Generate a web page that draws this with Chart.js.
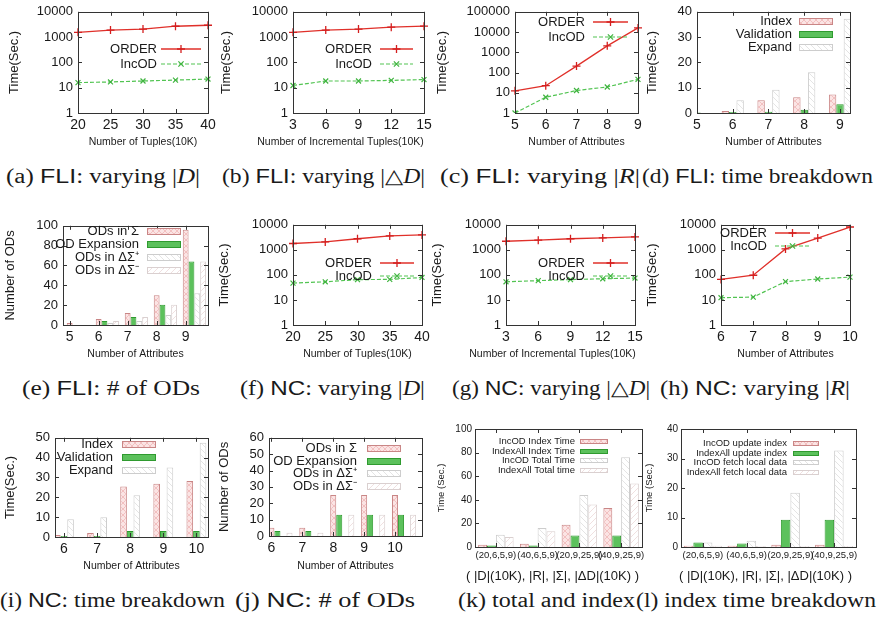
<!DOCTYPE html>
<html>
<head>
<meta charset="utf-8">
<script src="https://cdn.jsdelivr.net/npm/chart.js@4.4.1/dist/chart.umd.min.js"></script>
<style>
  body { margin: 0; background: #fff; width: 879px; height: 617px; position: relative; overflow: hidden; }
  canvas { position: absolute; }
  .cap { position: absolute; white-space: nowrap; font-family: "Liberation Serif", "DejaVu Serif", serif;
         font-size: 20px; color: #1a1a1a; transform-origin: 0 50%; line-height: 1; }
  .cap .sf { font-family: "Liberation Sans", Arial, sans-serif; }
</style>
</head>
<body>
<div class="cap" data-w="194" style="left:6px;top:176px">(a) <span class="sf">FLI</span>: varying |<i>D</i>|</div>
<div class="cap" data-w="203" style="left:222px;top:176px">(b) <span class="sf">FLI</span>: varying |△<i>D</i>|</div>
<div class="cap" data-w="200" style="left:440px;top:176px">(c) <span class="sf">FLI</span>: varying |<i>R</i>|</div>
<div class="cap" data-w="231" style="left:642px;top:176px">(d) <span class="sf">FLI</span>: time breakdown</div>
<div class="cap" data-w="178" style="left:22px;top:388px">(e) <span class="sf">FLI</span>: # of ODs</div>
<div class="cap" data-w="185" style="left:240px;top:388px">(f) <span class="sf">NC</span>: varying |<i>D</i>|</div>
<div class="cap" data-w="198" style="left:452px;top:388px">(g) <span class="sf">NC</span>: varying |△<i>D</i>|</div>
<div class="cap" data-w="190" style="left:660px;top:388px">(h) <span class="sf">NC</span>: varying |<i>R</i>|</div>
<div class="cap" data-w="225" style="left:0px;top:600px">(i) <span class="sf">NC</span>: time breakdown</div>
<div class="cap" data-w="180" style="left:235px;top:600px">(j) <span class="sf">NC</span>: # of ODs</div>
<div class="cap" data-w="177" style="left:458px;top:600px">(k) total and index</div>
<div class="cap" data-w="240" style="left:636px;top:600px">(l) index time breakdown</div>
<script>
// categories
const tuples = [20, 25, 30, 35, 40];
const incTuples = [3, 6, 9, 12, 15];
const attrsFli = [5, 6, 7, 8, 9];
const attrsNc = [6, 7, 8, 9, 10];
const settings = ['(20,6,5,9)', '(40,6,5,9)', '(20,9,25,9)', '(40,9,25,9)'];

// FLI runtimes (sec)
const fliOrderD = [1550, 1900, 2070, 2690, 2940];
const fliIncodD = [15.9, 16.9, 18.4, 20, 22];
const fliOrderDD = [1550, 1900, 2070, 2470, 2700];
const fliIncodDD = [12.2, 18.4, 18.4, 19.5, 21];
const fliOrderR = [12.5, 22.3, 208, 2080, 16000];
const fliIncodR = [1.0, 6.0, 12.9, 19.3, 46];
const fliIndex = [0, 0.8, 5, 6.2, 7.3];
const fliValidation = [0.2, 0.4, 0.5, 1.3, 3.5];
const fliExpand = [0, 5, 9.2, 16.1, 37.3];
const fliOdsSigma = [2, 6, 12, 30, 96];
const fliOdExpansion = [0, 4, 8, 20.5, 64];
const fliOdsPlus = [0, 2, 4, 10, 32];
const fliOdsMinus = [0, 4, 8, 20.5, 64];

// NC runtimes (sec)
const ncOrderD = [1790, 2070, 2770, 3610, 3960];
const ncIncodD = [47, 53, 65, 66, 79];
const ncOrderDD = [2200, 2430, 2770, 3000, 3280];
const ncIncodDD = [53, 59, 65, 70, 75];
const ncOrderR = [66, 97, 1090, 2940, 8160];
const ncIncodR = [12.3, 13, 54, 68.5, 81.6];
const ncIndex = [1, 2, 25.5, 26.8, 28.2];
const ncValidation = [0.5, 0.5, 3, 3, 3];
const ncExpand = [9, 10, 21, 35, 47.5];
const ncOdsSigma = [5, 5, 25, 25, 25];
const ncOdExpansion = [3, 3, 13, 13, 13];
const ncOdsPlus = [0, 0, 0, 0, 0];
const ncOdsMinus = [2, 2, 13, 13, 13];

// index comparison
const incodIndexTime = [2, 2.8, 18.8, 33];
const indexAllIndexTime = [1.2, 1.2, 9.8, 9.8];
const incodTotalTime = [10.4, 16, 44, 76];
const indexAllTotalTime = [8.4, 13.4, 36.1, 53.8];
const incodUpdateIndex = [0.45, 0.4, 0.8, 0.8];
const indexAllUpdateIndex = [1.5, 1.2, 9.2, 9.2];
const incodFetchLocal = [1.5, 2.1, 18.4, 32.7];
const indexAllFetchLocal = [0.4, 0.3, 0.3, 0.3];

// tick labels
const logTicks4 = [1, 10, 100, 1000, 10000];
const logTicks5 = [1, 10, 100, 1000, 10000, 100000];
const fliBreakTicks = [0, 10, 20, 30, 40];
const fliOdTicks = [0, 20, 40, 60, 80, 100];
const ncBreakTicks = [0, 10, 20, 30, 40, 50];
const ncOdTicks = [0, 10, 20, 30, 40, 50, 60];
const totalTicks = [0, 20, 40, 60, 80, 100];
const indexTicks = [0, 10, 20, 30, 40];

Chart.defaults.font.family = '"Liberation Sans", Arial, Helvetica, sans-serif';
Chart.defaults.color = '#1a1a1a';
Chart.defaults.animation = false;

function hatch(bg, fg, kind) {
  const c = document.createElement('canvas');
  c.width = 6; c.height = 6;
  const g = c.getContext('2d');
  g.fillStyle = bg; g.fillRect(0, 0, 6, 6);
  g.strokeStyle = fg; g.lineWidth = 1;
  g.beginPath();
  if (kind === 'cross' || kind === 'up') { g.moveTo(0, 6); g.lineTo(6, 0); }
  if (kind === 'cross' || kind === 'down') { g.moveTo(0, 0); g.lineTo(6, 6); }
  g.stroke();
  return g.createPattern(c, 'repeat');
}

const pink = { backgroundColor: hatch('#fbe4e4', '#f2c0c0', 'cross'), borderColor: '#c98686' };
const green = { backgroundColor: '#5cc15c', borderColor: '#2f9a2f' };
const grayHatch = { backgroundColor: hatch('#ffffff', '#e4e4e4', 'down'), borderColor: '#cdcdcd' };
const pinkHatch = { backgroundColor: hatch('#ffffff', '#f0e0e0', 'up'), borderColor: '#dad0d0' };

const orderStyle = { borderColor: '#e0302a', pointBorderColor: '#d41f1f', pointStyle: 'cross',
  pointRadius: 4, pointBorderWidth: 1.3, borderWidth: 1.3 };
const incodStyle = { borderColor: '#52c452', pointBorderColor: '#3fb43f', pointStyle: 'crossRot',
  pointRadius: 3.5, pointBorderWidth: 1.2, borderWidth: 1.2, borderDash: [4, 2] };

// gnuplot-like frame, inward ticks, x label and legend
const gpPlugin = {
  id: 'gp',
  afterDraw(chart, args, opts) {
    const ctx = chart.ctx, a = chart.chartArea;
    const xs = chart.scales.x, ys = chart.scales.y;
    ctx.save();
    ctx.strokeStyle = '#333';
    ctx.lineWidth = 1;
    ctx.beginPath();
    xs.ticks.forEach((t, i) => {
      const px = Math.round(xs.getPixelForTick(i)) + 0.5;
      ctx.moveTo(px, a.bottom); ctx.lineTo(px, a.bottom - 4);
      ctx.moveTo(px, a.top); ctx.lineTo(px, a.top + 4);
    });
    ys.ticks.forEach((t, i) => {
      const py = Math.round(ys.getPixelForTick(i)) + 0.5;
      ctx.moveTo(a.left, py); ctx.lineTo(a.left + 4, py);
      ctx.moveTo(a.right, py); ctx.lineTo(a.right - 4, py);
    });
    ctx.stroke();
    ctx.strokeRect(Math.round(a.left) + 0.5, Math.round(a.top) + 0.5,
      Math.round(a.right - a.left), Math.round(a.bottom - a.top));

    const xt = opts.xTitle;
    if (xt) {
      ctx.font = xt.size + 'px "Liberation Sans", Arial, sans-serif';
      ctx.fillStyle = '#1a1a1a';
      ctx.textAlign = 'center';
      ctx.textBaseline = 'middle';
      ctx.fillText(xt.text, (a.left + a.right) / 2 + (xt.dx || 0), a.bottom + xt.dy);
    }

    const lg = opts.legend;
    if (lg) {
      ctx.font = lg.size + 'px "Liberation Sans", Arial, sans-serif';
      ctx.textAlign = 'right';
      ctx.textBaseline = 'middle';
      chart.data.datasets.forEach((ds, i) => {
        const tx = a.left + lg.x, ty = Math.round(a.top + lg.y + i * lg.dy);
        ctx.fillStyle = '#1a1a1a';
        ctx.fillText(ds.label, tx, ty);
        const sx = tx + lg.gap;
        if (chart.config.type === 'bar') {
          const bh = lg.bh;
          ctx.fillStyle = ds.backgroundColor;
          ctx.fillRect(sx, ty - bh / 2, lg.sw, bh);
          ctx.strokeStyle = ds.borderColor;
          ctx.strokeRect(sx + 0.5, Math.round(ty - bh / 2) + 0.5, lg.sw, bh);
        } else {
          ctx.strokeStyle = ds.borderColor;
          ctx.lineWidth = ds.borderWidth;
          ctx.setLineDash(ds.borderDash || []);
          ctx.beginPath(); ctx.moveTo(sx, ty); ctx.lineTo(sx + lg.sw, ty); ctx.stroke();
          ctx.setLineDash([]);
          const mx = sx + lg.sw / 2, r = ds.pointRadius;
          ctx.strokeStyle = ds.pointBorderColor;
          ctx.lineWidth = ds.pointBorderWidth;
          ctx.beginPath();
          if (ds.pointStyle === 'cross') {
            ctx.moveTo(mx - r, ty); ctx.lineTo(mx + r, ty);
            ctx.moveTo(mx, ty - r); ctx.lineTo(mx, ty + r);
          } else {
            const d = r * 0.75;
            ctx.moveTo(mx - d, ty - d); ctx.lineTo(mx + d, ty + d);
            ctx.moveTo(mx - d, ty + d); ctx.lineTo(mx + d, ty - d);
          }
          ctx.stroke();
        }
      });
    }
    ctx.restore();
  }
};
Chart.register(gpPlugin);

// put a canvas so that the plot area lands on l,t,r,b of the page
function place(g) {
  const cv = document.createElement('canvas');
  const ylh = g.ys * 1.2, xlh = g.xs * 1.2;
  const cl = Math.round(g.ytx - ylh / 2);
  const ct = g.t - 8;
  const xh = Math.round(g.xty + xlh / 2 - g.b);
  const w = g.r - cl + 12, h = g.b - ct + xh + 2;
  cv.width = w; cv.height = h;
  cv.style.left = cl + 'px'; cv.style.top = ct + 'px';
  cv.style.width = w + 'px'; cv.style.height = h + 'px';
  document.body.appendChild(cv);
  return { cv, yw: g.l - cl, xh };
}

function yAxis(g, box, ticks, type, title) {
  return {
    type, min: ticks[0], max: ticks[ticks.length - 1],
    afterBuildTicks: s => { s.ticks = ticks.map(v => ({ value: v })); },
    afterFit: s => { s.width = box.yw; },
    grid: { display: false, drawTicks: false }, border: { display: false },
    ticks: { font: { size: g.yt }, padding: g.yp, autoSkip: false, callback: v => String(v) },
    title: { display: true, text: title, font: { size: g.ys }, padding: 0 }
  };
}

function xCommon(g, box) {
  return {
    afterFit: s => { s.height = box.xh; },
    grid: { display: false, drawTicks: false }, border: { display: false },
    ticks: { font: { size: g.xt }, padding: g.xp, autoSkip: false, maxRotation: 0, minRotation: 0 }
  };
}

function gpOpts(g, xTitle, legend) {
  return { legend, xTitle: { text: xTitle, size: g.xs, dy: g.xty - g.b, dx: g.xdx || 0 } };
}

function linePanel(g, labels, order, incod, yTicks, xTitle, legend) {
  const box = place(g);
  new Chart(box.cv, {
    type: 'line',
    data: {
      labels,
      datasets: [
        { label: 'ORDER', data: order, ...orderStyle },
        { label: 'IncOD', data: incod, ...incodStyle }
      ]
    },
    options: {
      responsive: false,
      layout: { padding: { top: 8, right: 12, bottom: 2, left: 0 } },
      plugins: { legend: { display: false }, tooltip: { enabled: false }, gp: gpOpts(g, xTitle, legend) },
      scales: {
        x: { type: 'category', offset: false, ...xCommon(g, box) },
        y: yAxis(g, box, yTicks, 'logarithmic', 'Time(Sec.)')
      }
    }
  });
}

function barPanel(g, o) {
  const box = place(g);
  const datasets = o.series.map(([label, vals, st]) => ({
    label, borderWidth: 1, borderSkipped: 'bottom',
    categoryPercentage: o.pct, barPercentage: 1, ...st,
    data: o.category ? vals : o.cats.map((c, i) => ({ x: c, y: vals[i] })),
    xAxisID: o.category ? 'x' : 'xb'
  }));
  const scales = { y: yAxis(g, box, o.yTicks, 'linear', o.yTitle) };
  if (o.category) {
    scales.x = { type: 'category', labels: o.cats, offset: true, ...xCommon(g, box) };
  } else {
    scales.x = {
      type: 'linear', offset: false, min: o.xMin, max: o.xMax, ...xCommon(g, box),
      afterBuildTicks: s => { s.ticks = o.cats.map(v => ({ value: v })); }
    };
    scales.xb = { type: 'linear', display: false, offset: false,
      min: o.xMin - o.shift, max: o.xMax - o.shift };
  }
  new Chart(box.cv, {
    type: 'bar',
    data: { labels: o.category ? o.cats : undefined, datasets },
    options: {
      responsive: false,
      layout: { padding: { top: 8, right: 12, bottom: 2, left: 0 } },
      plugins: { legend: { display: false }, tooltip: { enabled: false }, gp: gpOpts(g, o.xTitle, o.legend) },
      scales
    }
  });
}

const big = { ys: 13, xs: 10.5, yt: 13, xt: 14, yp: 5, xp: 4 };
const small = { ys: 9.5, xs: 13, yt: 10, xt: 9.5, yp: 3, xp: 3 };

// row 1
linePanel({ ...big, l: 78, t: 7, r: 208, b: 113, ytx: 15, xty: 142 }, tuples, fliOrderD, fliIncodD, logTicks4,
  'Number of Tuples(10K)', { x: 79, y: 37, dy: 15, sw: 40, gap: 4, size: 13 });
linePanel({ ...big, l: 293, t: 7, r: 424, b: 113, ytx: 227, xty: 142, xdx: -18 }, incTuples, fliOrderDD, fliIncodDD, logTicks4,
  'Number of Incremental Tuples(10K)', { x: 79, y: 37, dy: 15, sw: 33, gap: 8, size: 13 });
linePanel({ ...big, l: 515, t: 7, r: 638, b: 113, ytx: 443, xty: 142 }, attrsFli, fliOrderR, fliIncodR, logTicks5,
  'Number of Attributes', { x: 70, y: 10, dy: 15, sw: 35, gap: 8, size: 13 });
barPanel({ ...big, l: 697, t: 7, r: 850, b: 113, ytx: 653, xty: 142 }, {
  cats: attrsFli, xMin: 5, xMax: 9.28, shift: 0, pct: 0.62, yTicks: fliBreakTicks,
  xTitle: 'Number of Attributes', yTitle: 'Time(Sec.)',
  series: [['Index', fliIndex, pink], ['Validation', fliValidation, green], ['Expand', fliExpand, grayHatch]],
  legend: { x: 95, y: 9, dy: 13, sw: 33, gap: 7, bh: 6, size: 13 }
});

// row 2
barPanel({ ...big, l: 63, t: 221, r: 208, b: 325, ytx: 11, xty: 354 }, {
  cats: attrsFli, xMin: 4.77, xMax: 9.77, shift: 0.3, pct: 0.8, yTicks: fliOdTicks,
  xTitle: 'Number of Attributes', yTitle: 'Number of ODs',
  series: [['ODs in Σ', fliOdsSigma, pink], ['OD Expansion', fliOdExpansion, green],
           ['ODs in ΔΣ⁺', fliOdsPlus, grayHatch], ['ODs in ΔΣ⁻', fliOdsMinus, pinkHatch]],
  legend: { x: 76, y: 5, dy: 13, sw: 33, gap: 8, bh: 6, size: 13 }
});
linePanel({ ...big, l: 293, t: 220, r: 422, b: 325, ytx: 225, xty: 354 }, tuples, ncOrderD, ncIncodD, logTicks4,
  'Number of Tuples(10K)', { x: 79, y: 38, dy: 13, sw: 34, gap: 8, size: 13 });
linePanel({ ...big, l: 506, t: 220, r: 635, b: 325, ytx: 438, xty: 354, xdx: -18 }, incTuples, ncOrderDD, ncIncodDD, logTicks4,
  'Number of Incremental Tuples(10K)', { x: 79, y: 38, dy: 13, sw: 35, gap: 8, size: 13 });
linePanel({ ...big, l: 721, t: 220, r: 850, b: 325, ytx: 653, xty: 354 }, attrsNc, ncOrderR, ncIncodR, logTicks4,
  'Number of Attributes', { x: 46, y: 8, dy: 13, sw: 35, gap: 8, size: 13 });

// row 3
barPanel({ ...big, l: 55, t: 433, r: 208, b: 537, ytx: 11, xty: 566 }, {
  cats: attrsNc, xMin: 5.73, xMax: 10.35, shift: 0, pct: 0.6, yTicks: ncBreakTicks,
  xTitle: 'Number of Attributes', yTitle: 'Time(Sec.)',
  series: [['Index', ncIndex, pink], ['Validation', ncValidation, green], ['Expand', ncExpand, grayHatch]],
  legend: { x: 58, y: 6, dy: 13, sw: 33, gap: 9, bh: 6, size: 13 }
});
barPanel({ ...big, l: 269, t: 433, r: 422, b: 536, ytx: 225, xty: 566 }, {
  cats: attrsNc, xMin: 5.92, xMax: 10.87, shift: 0.29, pct: 0.78, yTicks: ncOdTicks,
  xTitle: 'Number of Attributes', yTitle: 'Number of ODs',
  series: [['ODs in Σ', ncOdsSigma, pink], ['OD Expansion', ncOdExpansion, green],
           ['ODs in ΔΣ⁺', ncOdsPlus, grayHatch], ['ODs in ΔΣ⁻', ncOdsMinus, pinkHatch]],
  legend: { x: 88, y: 10, dy: 12.7, sw: 33, gap: 10, bh: 6, size: 13 }
});
barPanel({ ...small, l: 475, t: 428, r: 642, b: 547, ytx: 442, xty: 576, xdx: -6 }, {
  category: true, cats: settings, pct: 0.85, yTicks: totalTicks,
  xTitle: '( |D|(10K), |R|, |Σ|, |ΔD|(10K) )', yTitle: 'Time (Sec.)',
  series: [['IncOD Index Time', incodIndexTime, pink], ['IndexAll Index Time', indexAllIndexTime, green],
           ['IncOD Total Time', incodTotalTime, grayHatch], ['IndexAll Total time', indexAllTotalTime, pinkHatch]],
  legend: { x: 100, y: 12, dy: 9.7, sw: 27, gap: 5, bh: 4, size: 9.5 }
});
barPanel({ ...small, l: 681, t: 428, r: 856, b: 547, ytx: 650, xty: 576, xdx: -3 }, {
  category: true, cats: settings, pct: 0.87, yTicks: indexTicks,
  xTitle: '( |D|(10K), |R|, |Σ|, |ΔD|(10K) )', yTitle: 'Time (Sec.)',
  series: [['IncOD update index', incodUpdateIndex, pink], ['IndexAll update index', indexAllUpdateIndex, green],
           ['IncOD fetch local data', incodFetchLocal, grayHatch], ['IndexAll fetch local data', indexAllFetchLocal, pinkHatch]],
  legend: { x: 106, y: 14, dy: 9.7, sw: 25, gap: 6, bh: 4, size: 9.5 }
});

// fit captions to their widths in the figure
document.querySelectorAll('.cap').forEach(el => {
  const k = (+el.dataset.w) / el.getBoundingClientRect().width;
  el.style.transform = 'translateY(-50%) scaleX(' + k.toFixed(3) + ')';
});
</script>
</body>
</html>
